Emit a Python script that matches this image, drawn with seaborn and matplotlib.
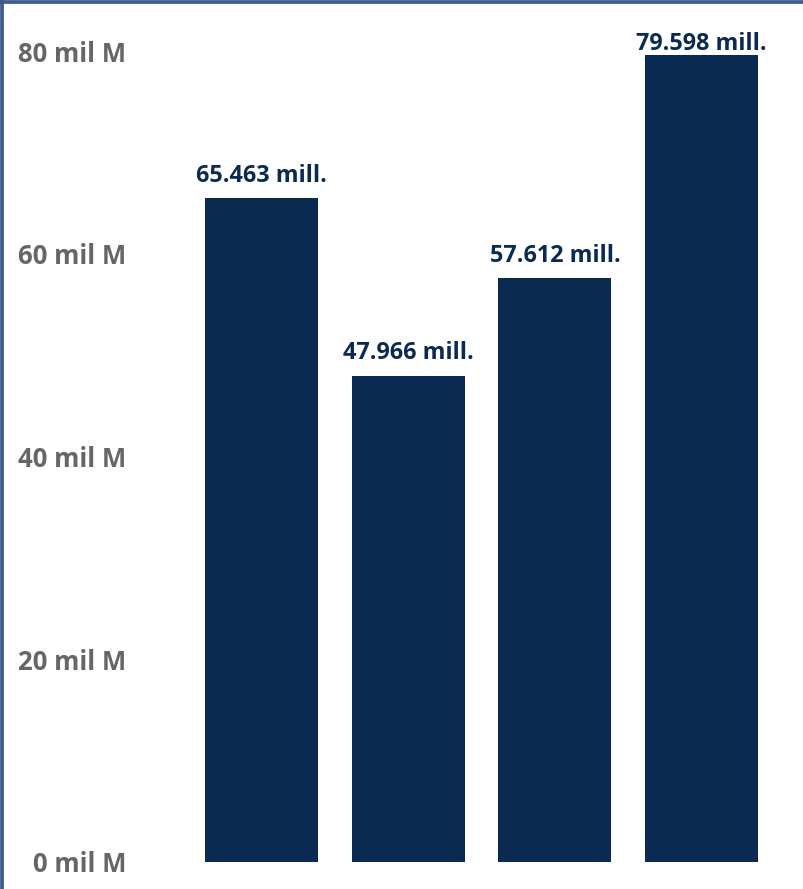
import matplotlib
matplotlib.use("Agg")
import matplotlib.pyplot as plt
from matplotlib.lines import Line2D
import seaborn as sns
import pandas as pd

# values (millions)
categories = ["1", "2", "3", "4"]
values = [65.463, 47.966, 57.612, 79.598]
bar_labels = ["65.463 mill.", "47.966 mill.", "57.612 mill.", "79.598 mill."]
y_ticks = [0, 20, 40, 60, 80]
y_ticklabels = ["0 mil M", "20 mil M", "40 mil M", "60 mil M", "80 mil M"]

sns.set_theme(style="white")
plt.rcParams['font.family'] = ['Open Sans', 'DejaVu Sans']

navy = "#0A2A52"
grey = "#666666"

df = pd.DataFrame({"cat": categories, "val": values})

fig = plt.figure(figsize=(8.04, 8.89), dpi=100)
# axes placed in pixels: left 140, right 790, bottom y=862, top y=10.5
W, H = 804, 889
ax = fig.add_axes([140 / W, (H - 862) / H, 650 / W, 851.5 / H])

sns.barplot(data=df, x="cat", y="val", color=navy, width=0.77,
            saturation=1, linewidth=0, ax=ax)

# the tallest bar's label is squeezed down against the top of the visual
c = ax.containers[0]
normal = [l if v < max(values) else "" for l, v in zip(bar_labels, values)]
top = [l if v == max(values) else "" for l, v in zip(bar_labels, values)]
ax.bar_label(c, labels=normal, padding=7.5, color=navy,
             fontsize=16.8, fontweight="bold")
ax.bar_label(c, labels=top, padding=-0.3, color=navy,
             fontsize=16.8, fontweight="bold")

ax.set_ylim(0, 84)
ax.set_xlim((140 - 261.5) / 146.7, (790 - 261.5) / 146.7)
ax.set_yticks(y_ticks)
ax.set_yticklabels(y_ticklabels, color=grey, fontsize=18.5, fontweight="bold")
ax.tick_params(axis="y", length=0, pad=10)
ax.set_xticks([])
ax.set_xlabel("")
ax.set_ylabel("")
for s in ax.spines.values():
    s.set_visible(False)

# frame lines on top and left of the visual
border = "#3B5B8C"
fig.add_artist(Line2D([0, 1], [1 - 1.8 / H, 1 - 1.8 / H], color=border, lw=2.7,
                      transform=fig.transFigure))
fig.add_artist(Line2D([1.8 / W, 1.8 / W], [0, 1], color=border, lw=2.7,
                      transform=fig.transFigure))

fig.savefig("out.png", dpi=100)
